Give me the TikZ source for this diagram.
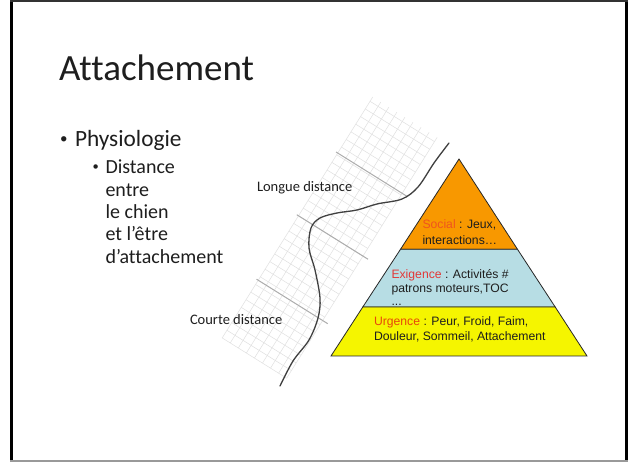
\documentclass[tikz,border=0pt]{standalone}
\usepackage{fontspec}
\setmainfont{Carlito}[Ligatures={NoCommon}]
\newfontfamily\arialf{Liberation Sans}
\definecolor{orangeP}{RGB}{248,152,0}
\definecolor{blueP}{RGB}{183,221,228}
\definecolor{yellowP}{RGB}{245,245,0}
\definecolor{socialc}{RGB}{240,84,30}
\definecolor{exic}{RGB}{226,56,56}
\definecolor{urgc}{RGB}{232,72,10}
\definecolor{txt}{RGB}{30,30,30}
\definecolor{curvec}{RGB}{64,64,64}
\begin{document}
\begin{tikzpicture}[x=1pt,y=-1pt,
  every node/.style={inner sep=0pt, outer sep=0pt, text=txt},
  pyr/.style={anchor=base west, font=\arialf\fontsize{12.2}{14}\selectfont},
  subl/.style={anchor=base west, font=\fontsize{20}{22}\selectfont},
  lbl/.style={anchor=base west, font=\fontsize{14.5}{17}\selectfont},
  band/.style={draw=black!85, line width=0.8pt, line join=miter},
  minorgrid/.style={draw=black!12, line width=0.5pt},
  majorgrid/.style={draw=black!32, line width=1pt}]
\useasboundingbox (0,0) rectangle (630,462);
\fill[white] (0,0) rectangle (630,462);
% slide frame
\draw[line width=3pt, black] (11.5,0) -- (11.5,462);
\draw[line width=3pt, black] (626.5,0) -- (626.5,462);
\draw[line width=2pt, black!80] (10,1) -- (628,1);
\draw[line width=1.5pt, black!40] (10,461.2) -- (628,461.2);
% left text
\node[anchor=base west, font=\fontsize{37}{44}\selectfont] (title) at (59,81) {Attachement};
\node[anchor=base west, font=\fontsize{15}{18}\selectfont] (b1) at (60,143.6) {•};
\node[anchor=base west, font=\fontsize{23.3}{28}\selectfont] (phys) at (75,147) {Physiologie};
\node[anchor=base west, font=\fontsize{12.5}{15}\selectfont] (b2) at (92.5,170.6) {•};
\node[subl] (s1) at (105.5,174) {Distance};
\node[subl] (s2) at (105.5,196.3) {entre};
\node[subl] (s3) at (105.5,218.6) {le chien};
\node[subl] (s4) at (105.5,240.9) {et l’être};
\node[subl] (s5) at (105.5,263.2) {d’attachement};
% grid strip
\begin{scope}[shift={(219,343)}]
\begin{scope}[x={(0.530pt,0.848pt)}, y={(0.848pt,-0.530pt)}]
  \foreach \u in {6,15,...,290} {\draw[minorgrid] (\u,0) -- (\u,76);}
  \foreach \v in {0,9.5,...,76} {\draw[minorgrid] (6,\v) -- (290,\v);}
  \foreach \u in {74,150,224} {\draw[majorgrid] (\u,-2) -- (\u,82);}
\end{scope}
\end{scope}
% curve
\draw[curvec, line width=1.3pt, line cap=round] plot[smooth, tension=0.55] coordinates {(280,386) (293,361) (309,340) (318,318) (320,298) (315,270) (309,248) (311,228) (320,218) (337,213) (357,210) (377,204) (402,199) (418,187) (434,163) (449,143)};
% labels
\node[lbl] (longue) at (257,191.5) {Longue distance};
\node[lbl] (courte) at (190,324.5) {Courte distance};
% pyramid
\coordinate (apex) at (459,159);
\filldraw[band, fill=orangeP] (apex) -- (517.5,249.3) -- (400.5,249.3) -- cycle;
\filldraw[band, fill=blueP] (400.5,249.3) -- (517.5,249.3) -- (555.2,307) -- (362.8,307) -- cycle;
\node[pyr] (exi3) at (391.5,305.8) {...};
\filldraw[band, fill=yellowP] (362.8,307) -- (555.2,307) -- (587,356) -- (331,356) -- cycle;
\node[pyr] (soc1) at (422.5,229) {\textcolor{socialc}{Social} : Jeux,};
\node[pyr] (soc2) at (422.5,245) {interactions…};
\node[pyr] (exi1) at (391.5,278.7) {\textcolor{exic}{Exigence} : Activités \#};
\node[pyr] (exi2) at (391.5,292.7) {patrons moteurs,TOC};
\node[pyr] (urg1) at (374,325.7) {\textcolor{urgc}{Urgence} : Peur, Froid, Faim,};
\node[pyr] (urg2) at (374,341) {Douleur, Sommeil, Attachement};
\end{tikzpicture}
\end{document}
